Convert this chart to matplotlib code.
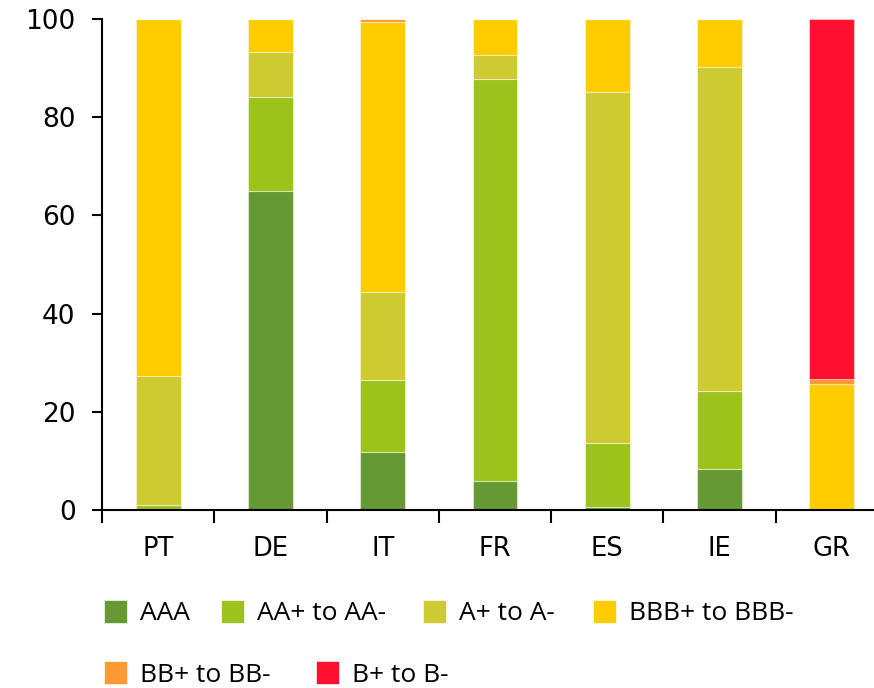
import matplotlib
matplotlib.use("Agg")
import matplotlib.pyplot as plt
from matplotlib.patches import Rectangle
import numpy as np

countries = ["PT", "DE", "IT", "FR", "ES", "IE", "GR"]
ratings = ["AAA", "AA+ to AA-", "A+ to A-", "BBB+ to BBB-", "BB+ to BB-", "B+ to B-"]

# share of each rating bucket, per country (%)
aaa = [0.0, 65.0, 11.8, 5.9, 0.6, 8.3, 0.0]
aa = [1.0, 19.1, 14.7, 81.9, 13.0, 15.9, 0.0]
a = [26.3, 9.2, 17.9, 4.9, 71.5, 66.0, 0.0]
bbb = [72.7, 6.7, 55.0, 7.3, 14.9, 9.8, 25.7]
bb = [0.0, 0.0, 0.6, 0.0, 0.0, 0.0, 1.0]
b = [0.0, 0.0, 0.0, 0.0, 0.0, 0.0, 73.3]

colors = ["#669933", "#9BC31C", "#CDCA32", "#FFCC00", "#FF9933", "#FF0F2F"]

legend_font = ["Open Sans", "DejaVu Sans"]

W, H = 874, 688
fig = plt.figure(figsize=(W / 100, H / 100), dpi=100)
ax = fig.add_axes([102 / W, (H - 510) / H, 786 / W, 491 / H])

x = np.arange(len(countries))
bottom = np.zeros(len(countries))
for vals, col in zip([aaa, aa, a, bbb, bb, b], colors):
    ax.bar(x, vals, 0.4, bottom=bottom, color=col,
           edgecolor=(1, 1, 1, 0.45), linewidth=0.8)
    bottom += np.array(vals)

ax.set_xlim(-0.5, len(countries) - 0.5)
ax.set_ylim(0, 100)
ax.set_yticks(range(0, 101, 20))
ax.set_xticks(x)
ax.set_xticklabels(countries)
ax.set_xticks(np.arange(-0.5, len(countries), 1), minor=True)
ax.tick_params(axis="x", which="major", length=0, pad=19, labelsize=18.5)
ax.tick_params(axis="x", which="minor", length=9, width=1.5)
ax.tick_params(axis="y", length=7, width=1.5, pad=12, labelsize=19)
for side in ["top", "right"]:
    ax.spines[side].set_visible(False)
for side in ["left", "bottom"]:
    ax.spines[side].set_linewidth(1.5)

# legend laid out in two rows under the plot (pixel positions of the swatches)
legend_pos = [(105, 611), (222, 611), (424, 611), (594, 611),
              (105, 672), (317, 672)]
for (px, py), lab, col in zip(legend_pos, ratings, colors):
    fig.patches.append(Rectangle((px / W, (H - py - 10.5) / H), 21 / W, 21 / H,
                                 transform=fig.transFigure, color=col))
    fig.text((px + 35) / W, (H - py) / H, lab, va="center_baseline", ha="left",
             fontsize=19, family=legend_font)

fig.savefig("out.png", dpi=100)
